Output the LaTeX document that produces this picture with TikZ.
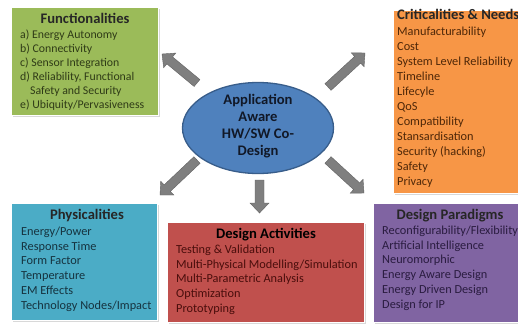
\documentclass[tikz,border=0pt]{standalone}
\usepackage{fontspec}
\setmainfont{Carlito}
\usetikzlibrary{calc,shadows,shapes.geometric}
\definecolor{fgreen}{HTML}{9BBB59}
\definecolor{corange}{HTML}{F79646}
\definecolor{pblue}{HTML}{4BACC6}
\definecolor{dred}{HTML}{C0504D}
\definecolor{dpurple}{HTML}{8064A2}
\definecolor{ellfill}{HTML}{4F81BD}
\definecolor{elldraw}{HTML}{385D8A}
\definecolor{arrfill}{HTML}{7F7F7F}
\definecolor{arrdraw}{HTML}{626262}
\definecolor{tgreen}{HTML}{2F3B17}
\definecolor{torange}{HTML}{4E2708}
\definecolor{tblue}{HTML}{16333F}
\definecolor{tred}{HTML}{4A0E0C}
\definecolor{tpurple}{HTML}{2A1C40}
\definecolor{tell}{HTML}{111827}
\newcommand\itemlist[1]{\begin{tabular}[t]{@{}l@{}}#1\end{tabular}}
\newcommand\blockarrow[2]{%
  \fill[arrowfill] ($(#1)!4.5bp!90:(#2)$)
    -- ($($(#2)!10bp!(#1)$)!4.5bp!90:(#2)$)
    -- ($($(#2)!10bp!(#1)$)!9.5bp!90:(#2)$)
    -- (#2)
    -- ($($(#2)!10bp!(#1)$)!9.5bp!-90:(#2)$)
    -- ($($(#2)!10bp!(#1)$)!4.5bp!-90:(#2)$)
    -- ($(#1)!4.5bp!-90:(#2)$) -- cycle;}
\begin{document}
\begin{tikzpicture}[x=1bp,y=-1bp,
  box/.style={rectangle,inner sep=0pt,anchor=north west,draw=white,line width=0.6bp,
    drop shadow={opacity=0.3,shadow xshift=1.5bp,shadow yshift=-1.5bp}},
  ttl/.style={inner sep=0pt,anchor=base,font=\fontsize{14.6bp}{17bp}\selectfont\bfseries},
  lst/.style={inner sep=0pt,anchor=base west,font=\fontsize{12.3bp}{14.7bp}\selectfont},
  arrowfill/.style={fill=arrfill,draw=arrdraw,line width=0.4bp}]
\useasboundingbox (0,0) rectangle (518,324);
\clip (0,0) rectangle (518,324);
\fill[white] (0,0) rectangle (518,324);

% boxes
\node[box,fill=fgreen,minimum width=147bp,minimum height=108bp] (func) at (11,7) {};
\node[box,fill=corange,minimum width=140bp,minimum height=183bp] (crit) at (393,10) {};
\node[box,fill=pblue,minimum width=146bp,minimum height=117bp] (phys) at (11,203) {};
\node[box,fill=dred,minimum width=197bp,minimum height=100bp] (act) at (167,222) {};
\node[box,fill=dpurple,minimum width=160bp,minimum height=119bp] (para) at (373,203) {};

% texts
\node[ttl,text=black!85] (functtl) at (85,23) {Functionalities};
\node[lst,text=tgreen,font=\fontsize{11.8bp}{14bp}\selectfont] (funclst) at (20,38) {\itemlist{a) Energy Autonomy\\ b) Connectivity\\ c) Sensor Integration\\ d) Reliability, Functional\\ \hspace{10bp}Safety and Security\\ e) Ubiquity/Pervasiveness}};

\node[ttl,text=black!85,anchor=base west] (critttl) at (397,19) {Criticalities \& Needs};
\node[lst,text=torange,font=\fontsize{12.3bp}{15bp}\selectfont] (critlst) at (397,35) {\itemlist{Manufacturability\\ Cost\\ System Level Reliability\\ Timeline\\ Lifecyle\\ QoS\\ Compatibility\\ Stansardisation\\ Security (hacking)\\ Safety\\ Privacy}};

\node[ttl,text=black!85] (physttl) at (87,219.5) {Physicalities};
\node[lst,text=tblue] (physlst) at (21,235.5) {\itemlist{Energy/Power\\ Response Time\\ Form Factor\\ Temperature\\ EM Effects\\ Technology Nodes/Impact}};

\node[ttl,text=black] (actttl) at (266,238) {Design Activities};
\node[lst,text=tred] (actlst) at (176,253.5) {\itemlist{Testing \& Validation\\ Multi-Physical Modelling/Simulation\\ Multi-Parametric Analysis\\ Optimization\\ Prototyping}};

\node[ttl,text=black!85] (parattl) at (450,219.5) {Design Paradigms};
\node[lst,text=tpurple] (paralst) at (382,234.5) {\itemlist{Reconfigurability/Flexibility\\ Artificial Intelligence\\ Neuromorphic\\ Energy Aware Design\\ Energy Driven Design\\ Design for IP}};

% central ellipse
\node[ellipse,fill=ellfill,draw=elldraw,line width=1.3bp,minimum width=151bp,minimum height=91bp,inner sep=0pt] (core) at (258,128) {};
\node[inner sep=0pt,align=center,text=tell,font=\fontsize{14.6bp}{17bp}\selectfont\bfseries] (coretxt) at (258,126) {Application\\ Aware\\ HW/SW Co-\\ Design};

% arrows
\coordinate (nwA) at (197,83);  \coordinate (nwB) at (162,54);
\coordinate (neA) at (328,87);  \coordinate (neB) at (365,53);
\coordinate (swA) at (197,160); \coordinate (swB) at (160,195);
\coordinate (seA) at (328,160); \coordinate (seB) at (364,193);
\coordinate (dnA) at (259.5,180); \coordinate (dnB) at (259.5,213);
\blockarrow{nwA}{nwB}
\blockarrow{neA}{neB}
\blockarrow{swA}{swB}
\blockarrow{seA}{seB}
\blockarrow{dnA}{dnB}
\end{tikzpicture}
\end{document}
